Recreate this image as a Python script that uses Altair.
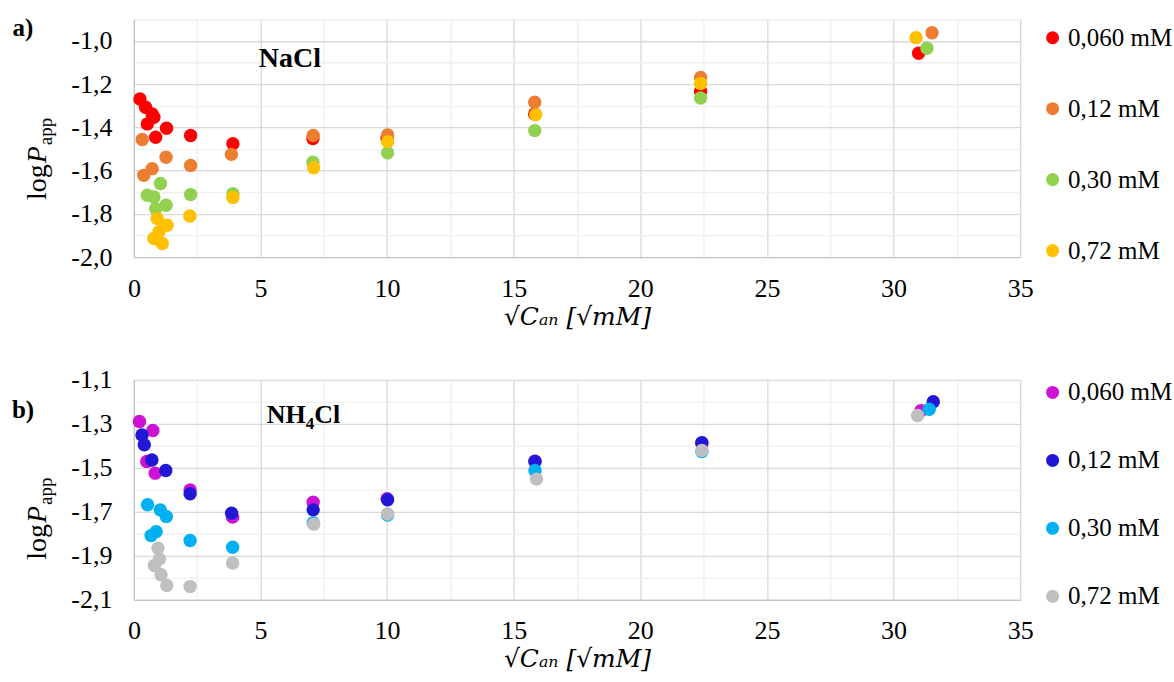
import altair as alt
import pandas as pd

FONT = "Liberation Serif"
TITLE_FONT = "DejaVu Serif"

series_labels = ["0,060 mM", "0,12 mM", "0,30 mM", "0,72 mM"]
colors_a = ["#FF0000", "#ED7D31", "#92D050", "#FFC000"]
colors_b = ["#CD12D3", "#2317D6", "#00B0F0", "#BFBFBF"]

# Panel a) NaCl
a_x_060 = [0.24, 0.46, 0.72, 0.79, 0.53, 0.86, 1.29, 2.24, 3.91, 7.07, 10.0, 15.83, 22.38, 30.99]
a_y_060 = [-1.269, -1.307, -1.338, -1.353, -1.384, -1.446, -1.404, -1.438, -1.476, -1.452, -1.45, -1.338, -1.234, -1.057]
a_x_012 = [0.33, 0.39, 0.72, 1.27, 2.24, 3.85, 7.08, 10.02, 15.83, 22.38, 31.52]
a_y_012 = [-1.456, -1.622, -1.591, -1.538, -1.576, -1.525, -1.438, -1.435, -1.284, -1.169, -0.962]
a_x_030 = [0.53, 0.79, 0.86, 1.05, 1.27, 2.24, 3.91, 7.07, 10.02, 15.83, 22.38, 31.32]
a_y_030 = [-1.714, -1.722, -1.776, -1.660, -1.760, -1.711, -1.707, -1.561, -1.518, -1.415, -1.264, -1.034]
a_x_072 = [0.79, 0.92, 0.99, 1.12, 1.31, 2.21, 3.91, 7.10, 10.02, 15.87, 22.38, 30.89]
a_y_072 = [-1.914, -1.822, -1.883, -1.937, -1.853, -1.810, -1.724, -1.587, -1.466, -1.341, -1.197, -0.985]

# Panel b) NH4Cl
b_x_060 = [0.22, 0.75, 0.51, 0.84, 2.22, 3.90, 7.08, 10.0, 15.84, 22.43, 31.08]
b_y_060 = [-1.289, -1.330, -1.471, -1.524, -1.600, -1.724, -1.656, -1.64, -1.47, -1.39, -1.24]
b_x_012 = [0.32, 0.41, 0.71, 1.26, 2.22, 3.86, 7.08, 10.02, 15.84, 22.43, 31.57]
b_y_012 = [-1.350, -1.395, -1.464, -1.512, -1.618, -1.706, -1.691, -1.645, -1.471, -1.385, -1.199]
b_x_030 = [0.54, 0.68, 0.88, 1.04, 1.28, 2.22, 3.90, 7.08, 10.02, 15.84, 22.43, 31.41]
b_y_030 = [-1.668, -1.808, -1.790, -1.691, -1.721, -1.830, -1.861, -1.75, -1.714, -1.512, -1.426, -1.233]
b_x_072 = [0.81, 0.95, 1.01, 1.07, 1.30, 2.22, 3.90, 7.10, 10.02, 15.90, 22.43, 30.95]
b_y_072 = [-1.944, -1.865, -1.915, -1.986, -2.035, -2.040, -1.933, -1.756, -1.71, -1.551, -1.421, -1.262]

x_ticks = [2.5 * i for i in range(15)]
MAJOR = "#D9D9D9"
MINOR = "#EFEFEF"
W = 887

WIDTHS = {"NaCl": 2.222, "NH": 1.5, "4": 0.5, "Cl": 1.0}


def make_df(xs_list, ys_list):
    rows = []
    k = 0
    for lab, xs, ys in zip(series_labels, xs_list, ys_list):
        for x, y in zip(xs, ys):
            rows.append({"x": x, "y": y, "series": lab, "idx": k})
            k += 1
    return pd.DataFrame(rows)


def txt(s, **kw):
    return alt.Chart(pd.DataFrame({"t": [s]})).mark_text(font=FONT, color="black", **kw).encode(text="t:N")


def panel(df, colors, ymin, ymax, parity, h, letter, letter_y, legend_y, row_pad, ybase,
          salt_parts, salt_x, salt_y):
    n = int(round((ymax - ymin) * 10))
    y_ticks = [round(ymin + 0.1 * i, 1) for i in range(n + 1)]
    ytest = f"abs(round(datum.value*10)) % 2 === {parity}"
    pts = alt.Chart(df).mark_circle(size=180, opacity=1).encode(
        x=alt.X("x:Q", scale=alt.Scale(domain=[0, 35], nice=False),
                axis=alt.Axis(values=x_ticks,
                              labelExpr="datum.value % 5 === 0 ? datum.label : ''",
                              gridColor={"condition": {"test": "datum.value % 5 === 0", "value": MAJOR}, "value": MINOR},
                              title="√Cₐₙ [√mM]", titleFontStyle="italic",
                              labelFont=FONT, titleFont=TITLE_FONT, labelFlush=False)),
        y=alt.Y("y:Q", scale=alt.Scale(domain=[ymin, ymax], nice=False, zero=False),
                axis=alt.Axis(values=y_ticks,
                              labelExpr=f"{ytest} ? '-' + replace(format(abs(datum.value), '.1f'), '.', ',') : ''",
                              gridColor={"condition": {"test": ytest, "value": MAJOR}, "value": MINOR},
                              title=None, labelFont=FONT)),
        color=alt.Color("series:N", scale=alt.Scale(domain=series_labels, range=colors),
                        legend=alt.Legend(title=None, orient="none", legendX=W + 20, legendY=legend_y,
                                          symbolType="circle", symbolSize=170, symbolStrokeWidth=0,
                                          symbolOpacity=1, labelFont=FONT, labelFontSize=25,
                                          labelColor="black", rowPadding=row_pad, labelOffset=3,
                                          padding=0)),
        order=alt.Order("idx:Q"),
    )
    layers = [pts]
    layers.append(txt(letter, fontSize=25, fontWeight="bold", align="center", baseline="middle")
                  .encode(x=alt.value(-111), y=alt.value(letter_y)))
    # y-axis title: log P_app
    s, s2 = 28, 19
    xb = -88
    w_log = 1.278 * s + 1
    w_p = 0.611 * s
    layers.append(txt("log", fontSize=s, angle=270, align="left", baseline="alphabetic")
                  .encode(x=alt.value(xb), y=alt.value(ybase)))
    layers.append(txt("P", fontSize=s, fontStyle="italic", angle=270, align="left", baseline="alphabetic")
                  .encode(x=alt.value(xb), y=alt.value(ybase - w_log)))
    layers.append(txt("app", fontSize=s2, angle=270, align="left", baseline="alphabetic")
                  .encode(x=alt.value(xb + 6), y=alt.value(ybase - w_log - w_p - 1)))
    # salt label
    cx = salt_x
    for part, size, dy in salt_parts:
        layers.append(txt(part, fontSize=size, fontWeight="bold", align="left", baseline="alphabetic")
                      .encode(x=alt.value(cx), y=alt.value(salt_y + dy)))
        cx += WIDTHS[part] * size
    return alt.layer(*layers).properties(width=W, height=h)


df_a = make_df([a_x_060, a_x_012, a_x_030, a_x_072], [a_y_060, a_y_012, a_y_030, a_y_072])
df_b = make_df([b_x_060, b_x_012, b_x_030, b_x_072], [b_y_060, b_y_012, b_y_030, b_y_072])

top = panel(df_a, colors_a, -2.0, -0.9, 0, 238, "a)", 9, 6, 45, 181,
            [("NaCl", 28, 0)], 125, 48)
bottom = panel(df_b, colors_b, -2.1, -1.1, 1, 220, "b)", 30, 0, 42, 180,
               [("NH", 26, 0), ("4", 17, 6), ("Cl", 26, 0)], 133, 43)

chart = alt.vconcat(top, bottom, spacing=36).resolve_scale(color="independent").properties(
    padding={"left": 11, "top": 15, "right": 0, "bottom": 0}
).configure(font=FONT).configure_view(stroke=MAJOR).configure_axis(
    labelFont=FONT, labelFontSize=26, titleFontSize=25,
    labelColor="black", titleColor="black", titleFontWeight="normal",
    ticks=False, tickSize=0, labelPadding=18, titlePadding=3,
    domainColor="#BFBFBF", domainWidth=1, gridWidth=1.3,
).configure_axisY(labelPadding=22).configure_legend(labelFont=FONT)

chart.save("out.html", embed_options={"renderer": "svg", "actions": False})
